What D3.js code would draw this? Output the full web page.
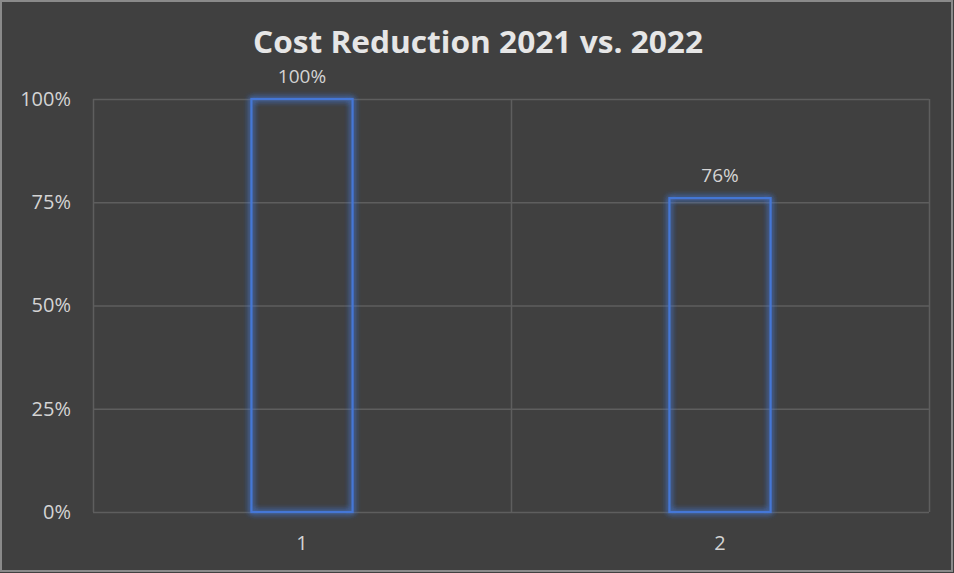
<!DOCTYPE html>
<html><head><meta charset="utf-8">
<script src="https://cdn.jsdelivr.net/npm/d3@7"></script>
<style>html,body{margin:0;padding:0;background:#404040;}svg{display:block;}</style>
</head><body>
<script>
const categories = ["1", "2"];
const values = [1.00, 0.76];
const yTicks = [0, 0.25, 0.5, 0.75, 1.0];
const titleText = "Cost Reduction 2021 vs. 2022";

const W = 954, H = 573;
const m = {left: 93, right: 25, top: 99, bottom: 61};
const svg = d3.select("body").append("svg").attr("width", W).attr("height", H);
svg.append("rect").attr("width", W).attr("height", H).attr("fill", "#404040");
svg.append("rect").attr("x", 1).attr("y", 1).attr("width", W - 3).attr("height", H - 3)
  .attr("fill", "none").attr("stroke", "#8a8a8a").attr("stroke-width", 2);

const defs = svg.append("defs");
const f = defs.append("filter").attr("id", "glow").attr("x", "-20%").attr("y", "-20%").attr("width", "140%").attr("height", "140%");
f.append("feGaussianBlur").attr("in", "SourceGraphic").attr("stdDeviation", 3).attr("result", "b");
const fm = f.append("feMerge");
fm.append("feMergeNode").attr("in", "b");
fm.append("feMergeNode").attr("in", "b");
fm.append("feMergeNode").attr("in", "SourceGraphic");

const x = d3.scaleBand().domain(categories).range([m.left, W - m.right]).paddingInner(0).paddingOuter(0);
const y = d3.scaleLinear().domain([0, 1]).range([H - m.bottom, m.top]);

const g = svg.append("g");
g.selectAll(".hg").data(yTicks).join("line")
  .attr("x1", m.left).attr("x2", W - m.right)
  .attr("y1", d => y(d) + 0.5).attr("y2", d => y(d) + 0.5)
  .attr("stroke", "#5e5e5e").attr("stroke-width", 1.5);
const edges = categories.map(c => x(c)).concat([x(categories[categories.length - 1]) + x.bandwidth()]);
g.selectAll(".vg").data(edges).join("line")
  .attr("x1", d => d + 0.5).attr("x2", d => d + 0.5)
  .attr("y1", m.top).attr("y2", H - m.bottom)
  .attr("stroke", "#5e5e5e").attr("stroke-width", 1.5);

const font = "Open Sans, sans-serif";
const yAxis = d3.axisLeft(y).tickValues(yTicks).tickFormat(d3.format(".0%")).tickSize(0).tickPadding(22);
const ya = svg.append("g").attr("transform", `translate(${m.left},0)`).call(yAxis);
ya.select(".domain").remove();
ya.selectAll("text").attr("fill", "#d4d4d4").attr("font-family", font).attr("font-size", 20);

const xAxis = d3.axisBottom(x).tickSize(0).tickPadding(24);
const xa = svg.append("g").attr("transform", `translate(0,${H - m.bottom})`).call(xAxis);
xa.select(".domain").remove();
xa.selectAll("text").attr("fill", "#d4d4d4").attr("font-family", font).attr("font-size", 20);

const bw = x.bandwidth() * 0.242;
svg.selectAll(".bar").data(values).join("rect")
  .attr("x", (d, i) => x(categories[i]) + x.bandwidth() / 2 - bw / 2)
  .attr("y", d => y(d))
  .attr("width", bw)
  .attr("height", d => y(0) - y(d))
  .attr("fill", "none").attr("stroke", "#4477d6").attr("stroke-width", 2.2)
  .attr("filter", "url(#glow)");

svg.selectAll(".lbl").data(values).join("text")
  .attr("x", (d, i) => x(categories[i]) + x.bandwidth() / 2)
  .attr("y", d => y(d) - 16)
  .attr("text-anchor", "middle")
  .attr("fill", "#d4d4d4").attr("font-family", font).attr("font-size", 19)
  .text(d => d3.format(".0%")(d));

svg.append("text").attr("x", 478).attr("y", 53).attr("text-anchor", "middle")
  .attr("fill", "#e6e6e6").attr("font-family", font).attr("font-weight", "bold")
  .attr("font-size", 30).attr("textLength", 450).attr("lengthAdjust", "spacingAndGlyphs")
  .text(titleText);
</script>
</body></html>
